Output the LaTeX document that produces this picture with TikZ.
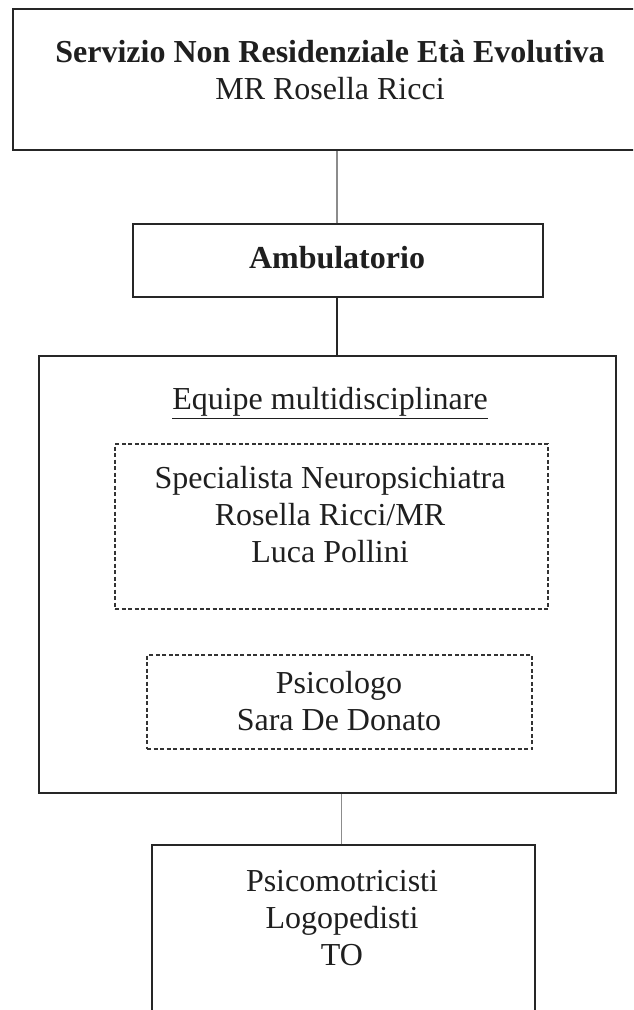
\documentclass[tikz,border=0pt]{standalone}
\usepackage{fontspec}
\setmainfont{Liberation Serif}
\usetikzlibrary{positioning}

\begin{document}
\begin{tikzpicture}[
    x=1pt, y=-1pt,
    box/.style={rectangle, draw=black!85, line width=1.5pt, inner sep=0pt},
    dashbox/.style={rectangle, draw=black!80, line width=1.2pt, dash pattern=on 4pt off 2.5pt, inner sep=0pt},
    txt/.style={align=center, inner sep=0pt, text=black!88, font=\fontsize{32}{37}\selectfont},
    link/.style={line width=1.2pt}
]
    \clip (0,0) rectangle (633,1010);
    \fill[white] (0,0) rectangle (633,1010);

    % Boxes
    \node[box, line width=2pt, minimum width=623pt, minimum height=141pt] (serv) at (324.5,79.5) {};
    \node[box, minimum width=410pt, minimum height=73pt] (amb) at (338,260.5) {};
    \node[box, minimum width=577pt, minimum height=437pt] (equipe) at (327.5,574.5) {};
    \node[dashbox, minimum width=433pt, minimum height=165pt] (npi) at (331.5,526.5) {};
    \node[dashbox, minimum width=385pt, minimum height=94pt] (psi) at (339.5,702) {};
    \node[box, minimum width=383pt, minimum height=180pt] (staff) at (343.5,935) {};

    % Texts
    \node[txt] (servtxt) at (330,70) {\textbf{Servizio Non Residenziale Età Evolutiva}\\MR Rosella Ricci};
    \node[txt, font=\fontsize{32}{37}\selectfont\bfseries] (ambtxt) at (337,258) {Ambulatorio};
    \node[txt] (equipetxt) at (330,403) {\underline{Equipe multidisciplinare}};
    \node[txt] (npitxt) at (330,515) {Specialista Neuropsichiatra\\Rosella Ricci/MR\\Luca Pollini};
    \node[txt] (psitxt) at (339,701) {Psicologo\\Sara De Donato};
    \node[txt] (stafftxt) at (342,918) {Psicomotricisti\\Logopedisti\\TO};

    % Links
    \draw[link, black!45] (amb.north -| ambtxt) -- (serv.south -| ambtxt);
    \draw[link, black!85] (amb.south -| ambtxt) -- (equipe.north -| ambtxt);
    \draw[link, black!45] ([xshift=-2pt]staff.north) -- ([xshift=-2pt]staff.north |- equipe.south);

\end{tikzpicture}
\end{document}
